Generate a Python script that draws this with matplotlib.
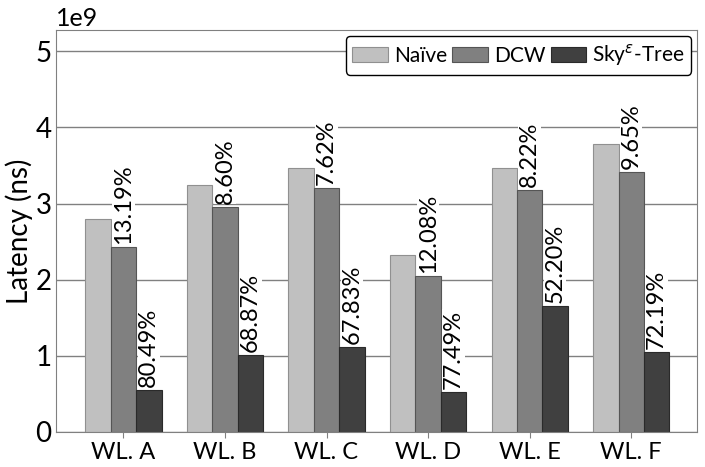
import numpy as np
import matplotlib
matplotlib.use('Agg')
import matplotlib.pyplot as plt

plt.rcParams['font.family'] = ['Lato', 'DejaVu Sans']

workloads = ['WL. A', 'WL. B', 'WL. C', 'WL. D', 'WL. E', 'WL. F']
naive = [2.80e9, 3.24e9, 3.46e9, 2.33e9, 3.46e9, 3.78e9]
dcw = [2.43e9, 2.96e9, 3.20e9, 2.05e9, 3.18e9, 3.41e9]
sky = [0.55e9, 1.01e9, 1.11e9, 0.52e9, 1.65e9, 1.05e9]
dcw_pct = ['13.19%', '8.60%', '7.62%', '12.08%', '8.22%', '9.65%']
sky_pct = ['80.49%', '68.87%', '67.83%', '77.49%', '52.20%', '72.19%']

x = np.arange(len(workloads))
w = 0.25

fig, ax = plt.subplots(figsize=(7.05, 4.67), dpi=100)
ax.set_axisbelow(True)
ax.yaxis.grid(True, color='#808080', linewidth=1)

ax.bar(x - w, naive, w, color='#c0c0c0', edgecolor='#909090', linewidth=0.8, label='Naïve')
ax.bar(x, dcw, w, color='#808080', edgecolor='#555555', linewidth=0.8, label='DCW')
ax.bar(x + w, sky, w, color='#404040', edgecolor='#2a2a2a', linewidth=0.8,
       label=r'Sky$^{\varepsilon}$-Tree')

box = dict(facecolor='white', edgecolor='none', pad=0.5)
for i in range(len(x)):
    ax.text(x[i], dcw[i] + 0.04e9, dcw_pct[i], rotation=90, ha='center', va='bottom',
            fontsize=17, bbox=box)
    ax.text(x[i] + w, sky[i] + 0.04e9, sky_pct[i], rotation=90, ha='center', va='bottom',
            fontsize=17, bbox=box)

ax.set_xlim(-0.66, 5.65)
ax.set_ylim(0, 5.28e9)
ax.set_xticks(x)
ax.set_xticklabels(workloads, fontsize=17)
ax.set_yticks([0, 1e9, 2e9, 3e9, 4e9, 5e9])
ax.tick_params(axis='y', labelsize=20, length=0)
ax.tick_params(axis='x', length=4, color='#808080')
ax.yaxis.get_offset_text().set_fontsize(18)
ax.set_ylabel('Latency (ns)', fontsize=20, labelpad=2)
for s in ax.spines.values():
    s.set_color('#808080')

ax.legend(loc='upper right', ncol=3, fontsize=15, frameon=True, fancybox=True,
          edgecolor='black', handlelength=1.7, columnspacing=0.25, handletextpad=0.3,
          borderpad=0.3, borderaxespad=0.3, framealpha=1)

plt.subplots_adjust(left=0.080, right=0.989, top=0.936, bottom=0.075)
plt.savefig('out.png')
